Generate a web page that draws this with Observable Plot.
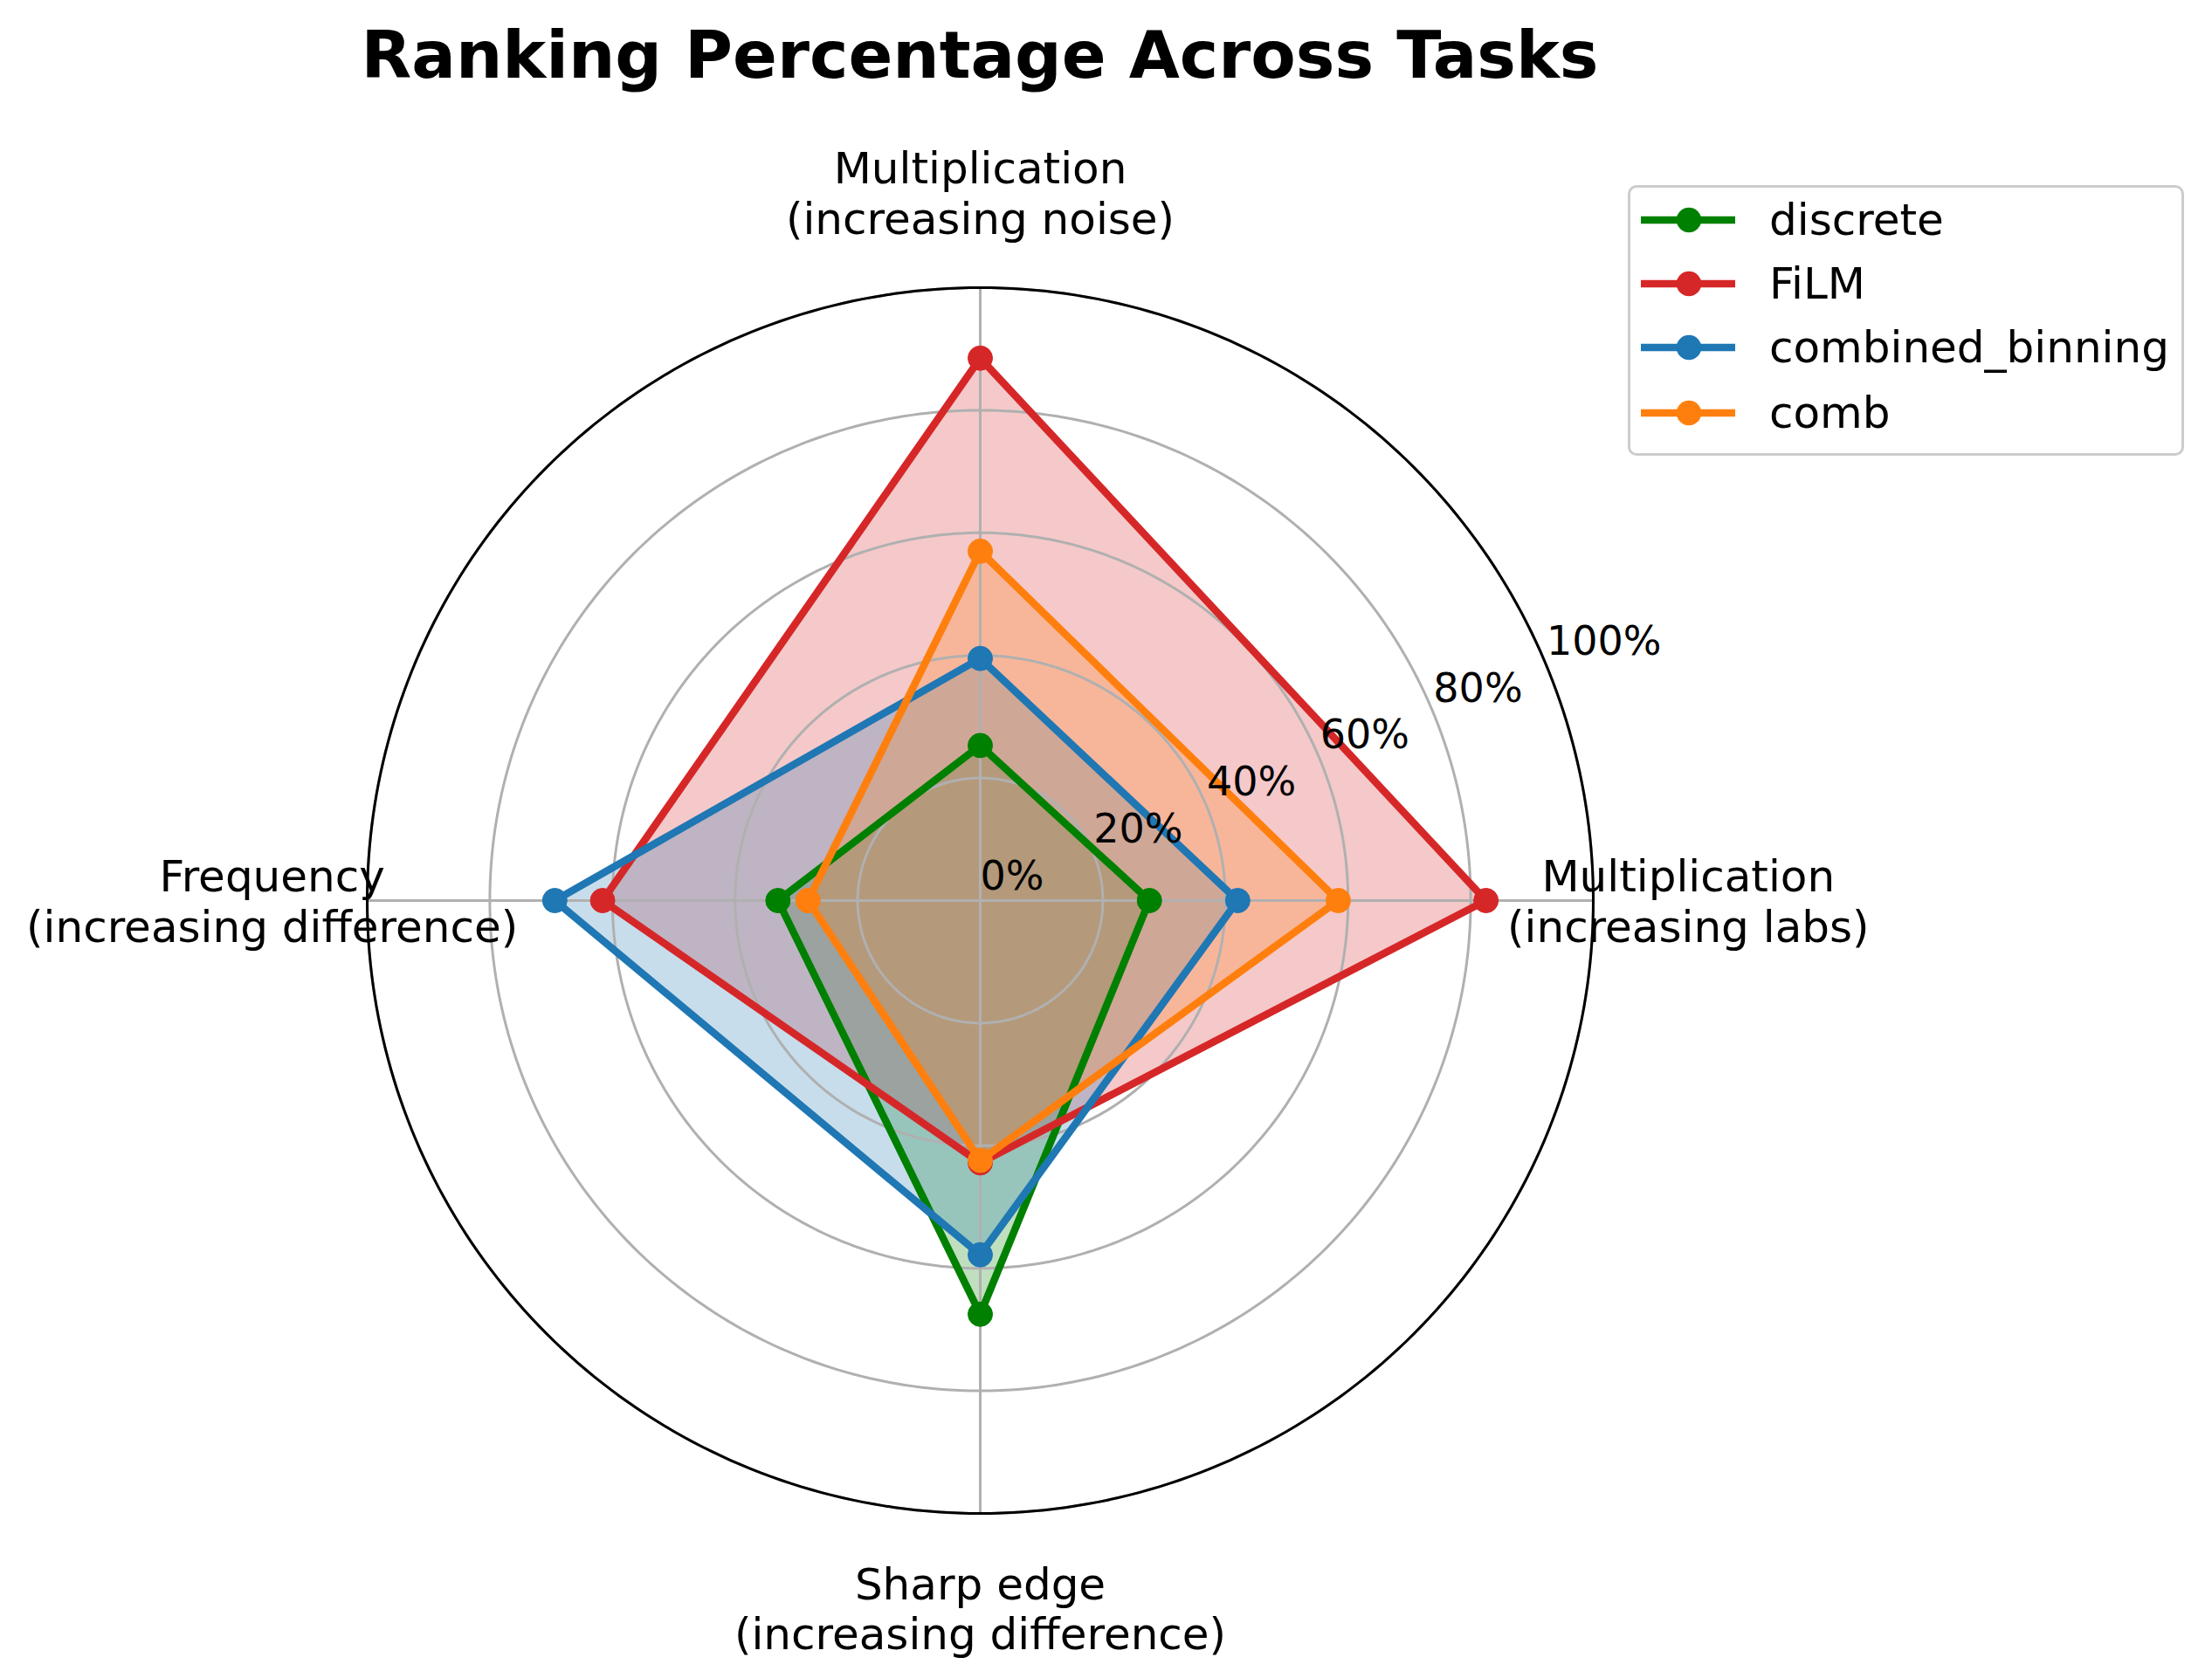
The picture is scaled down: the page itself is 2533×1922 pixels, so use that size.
<!DOCTYPE html>
<html>
<head>
<meta charset="utf-8">
<script src="https://cdn.jsdelivr.net/npm/d3@7"></script>
<script src="https://cdn.jsdelivr.net/npm/@observablehq/plot@0.6"></script>
<style>
  html, body { margin: 0; padding: 0; background: #fff; }
  body { width: 2533px; height: 1922px; position: relative; font-family: "DejaVu Sans", sans-serif; overflow: hidden; }
  #title { width: 2244px; height: 126px; line-height: 126px; text-align: center; font-size: 75px; font-weight: bold; color: #000; }
  #legend { position: absolute; left: 1864px; top: 212px; width: 631px; height: 304px; border: 3px solid #cccccc; border-radius: 10px; background: #fff; }
  .row { position: absolute; left: 0; height: 72px; display: flex; align-items: center; }
  .row svg { margin-left: 14px; }
  .row span { margin-left: 39px; font-size: 50px; color: #000; }
</style>
</head>
<body>
<div id="title">Ranking Percentage Across Tasks</div>
<div id="chart"></div>
<div id="legend"></div>
<script>
// ---- data ----
const axes = [
  "Multiplication\n(increasing labs)",
  "Multiplication\n(increasing noise)",
  "Frequency\n(increasing difference)",
  "Sharp edge\n(increasing difference)"
];
const series = ["discrete", "FiLM", "combined_binning", "comb"];
const discrete        = [27.6, 25.3, 33.0, 67.5];
const film            = [82.5, 88.5, 61.6, 42.8];
const combinedBinning = [42.0, 39.5, 69.4, 57.8];
const comb            = [58.4, 57.0, 28.1, 42.4];
const colors = ["#008000", "#d62728", "#1f77b4", "#ff7f0e"];
const radialTicks = [0, 20, 40, 60, 80, 100];
const radialTickLabels = ["0%", "20%", "40%", "60%", "80%", "100%"];

const values = [discrete, film, combinedBinning, comb];
const ang = i => i * 2 * Math.PI / axes.length;
const rows = series.map((s, si) => values[si].map((v, i) => ({series: s, axis: axes[i], i, v})));
const px = d => d.v * Math.cos(ang(d.i));
const py = d => d.v * Math.sin(ang(d.i));

// grid geometry
const circlePts = radialTicks.filter(t => t > 0).flatMap(t => d3.range(0, 361, 1).map(a => ({t, a: a * Math.PI / 180})));
const spokes = axes.map((a, i) => ({i}));
const labelR = 115.5;
const labelAng = 22.5 * Math.PI / 180;

const W = 2533, H = 1796, cx = 1122, cy = 905, R = 702;

const marks = [];
// fills (below grid)
rows.forEach((r, si) => {
  marks.push(Plot.line(r, {x: px, y: py, curve: "linear-closed", fill: colors[si], fillOpacity: 0.25, stroke: "none"}));
});
// grid circles
marks.push(Plot.line(circlePts, {x: d => d.t * Math.cos(d.a), y: d => d.t * Math.sin(d.a), z: "t", stroke: "#b0b0b0", strokeWidth: 3}));
// spokes
marks.push(Plot.link(spokes, {x1: 0, y1: 0, x2: d => 100 * Math.cos(ang(d.i)), y2: d => 100 * Math.sin(ang(d.i)), stroke: "#b0b0b0", strokeWidth: 3}));
// series lines + markers
rows.forEach((r, si) => {
  marks.push(Plot.line(r, {x: px, y: py, curve: "linear-closed", stroke: colors[si], strokeWidth: 8.5, strokeLinejoin: "round"}));
  marks.push(Plot.dot(r, {x: px, y: py, r: 14, fill: colors[si], stroke: colors[si], strokeWidth: 1}));
});
// outer spine
marks.push(Plot.line(circlePts.filter(d => d.t === 100), {x: d => d.t * Math.cos(d.a), y: d => d.t * Math.sin(d.a), stroke: "#000", strokeWidth: 3}));
// axis labels
marks.push(Plot.text(axes.map((a, i) => ({a, i})), {
  x: d => labelR * Math.cos(ang(d.i)), y: d => labelR * Math.sin(ang(d.i)),
  text: "a", fontSize: 50, lineHeight: 1.15, textAnchor: "middle", lineAnchor: "middle", fill: "#000"
}));
// radial tick labels
marks.push(Plot.text(radialTicks.map((t, k) => ({t, label: radialTickLabels[k]})), {
  x: d => d.t * Math.cos(labelAng), y: d => d.t * Math.sin(labelAng),
  text: "label", fontSize: 46, textAnchor: "start", lineAnchor: "bottom", fill: "#000", dy: -13
}));

const chart = Plot.plot({
  width: W, height: H, margin: 0,
  x: {domain: [-100, 100], range: [cx - R, cx + R], axis: null},
  y: {domain: [-100, 100], range: [cy + R, cy - R], axis: null},
  style: {fontFamily: "DejaVu Sans", background: "#fff", overflow: "visible"},
  marks
});
document.getElementById("chart").appendChild(chart);

// legend
const legend = document.getElementById("legend");
const rowCenters = [37, 110, 183, 258];
series.forEach((s, si) => {
  const row = document.createElement("div");
  row.className = "row";
  row.style.top = (rowCenters[si] - 36) + "px";
  row.innerHTML = `<svg width="108" height="40" viewBox="0 0 108 40" style="margin-left:12px"><line x1="0" y1="20" x2="108" y2="20" stroke="${colors[si]}" stroke-width="8.5"/><circle cx="55" cy="20" r="14.3" fill="${colors[si]}"/></svg><span>${s}</span>`;
  legend.appendChild(row);
});
</script>
</body>
</html>
